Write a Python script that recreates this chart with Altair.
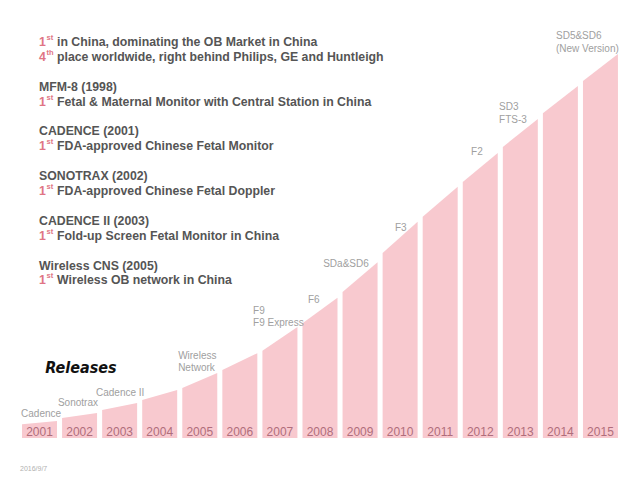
import altair as alt
import pandas as pd

# ---------------- data ----------------
years = list(range(2001, 2016))
# growth index at the left / right edge of each yearly column (0-100)
left_vals = [3.6, 5.2, 7.3, 9.9, 13.0, 17.7, 22.7, 29.9, 38.0, 48.2, 57.6, 66.7, 75.8, 84.6, 93.0]
right_vals = [4.4, 6.5, 9.1, 12.5, 16.9, 22.1, 28.9, 36.5, 45.8, 56.3, 65.4, 74.2, 83.1, 91.7, 100.0]

release_text = ["Cadence", "Sonotrax", "Cadence II", "Wireless", "Network", "F9", "F9 Express",
                "F6", "SDa&SD6", "F3", "F2", "SD3", "FTS-3", "SD5&SD6", "(New Version)"]
release_x = [2000.54, 2001.46, 2002.41, 2004.46, 2004.46, 2006.33, 2006.33,
             2007.70, 2008.08, 2009.87, 2011.77, 2012.47, 2012.47, 2013.89, 2013.89]
release_v = [6.25, 9.1, 11.7, 21.4, 18.2, 33.1, 29.9,
             35.9, 45.3, 54.7, 74.5, 86.2, 82.8, 104.7, 101.3]

# text block: (row, rank number, superscript, rest)
block_rows = [0, 1, 3, 4, 6, 7, 9, 10, 12, 13, 15, 16]
block_num = ["1", "4", "", "1", "", "1", "", "1", "", "1", "", "1"]
block_sup = ["st", "th", "", "st", "", "st", "", "st", "", "st", "", "st"]
block_rest = [
    "in China, dominating the OB Market in China",
    "place worldwide, right behind Philips, GE and Huntleigh",
    "MFM-8 (1998)",
    "Fetal & Maternal Monitor with Central Station in China",
    "CADENCE (2001)",
    "FDA-approved Chinese Fetal Monitor",
    "SONOTRAX (2002)",
    "FDA-approved Chinese Fetal Doppler",
    "CADENCE II (2003)",
    "Fold-up Screen Fetal Monitor in China",
    "Wireless CNS (2005)",
    "Wireless OB network in China",
]
title_text = "Releases"
date_text = "2016/9/7"

# ---------------- layout ----------------
W, H = 624, 464
HALF = 0.4367
PINK = "#f8c9cf"
GRAY = "#555555"
ACCENT = "#e07584"

xs = alt.Scale(domain=[2000.214, 2015.787], nice=False, zero=False)
ys = alt.Scale(domain=[-8.85, 111.98], nice=False, zero=False)

rows = []
for y, l, r in zip(years, left_vals, right_vals):
    rows.append({"year": y, "x": y - HALF, "v": l})
    rows.append({"year": y, "x": y + HALF, "v": r})
bars_df = pd.DataFrame(rows)

bars = alt.Chart(bars_df).mark_area(color=PINK, interpolate="linear").encode(
    x=alt.X("x:Q", scale=xs, axis=None),
    y=alt.Y("v:Q", scale=ys, axis=None),
    y2=alt.datum(0),
    detail="year:N",
)

year_df = pd.DataFrame({"year": years, "label": [str(y) for y in years]})
year_labels = alt.Chart(year_df).mark_text(
    fontSize=12, font="Liberation Sans", color="#b06d7b", align="center", baseline="middle"
).encode(
    x=alt.X("year:Q", scale=xs, axis=None),
    y=alt.value(424),
    text="label:N",
)

rel_df = pd.DataFrame({"t": release_text, "x": release_x, "v": release_v})
rel_labels = alt.Chart(rel_df).mark_text(
    fontSize=10, font="Liberation Sans", color="#a0a0a0", align="left", baseline="middle"
).encode(
    x=alt.X("x:Q", scale=xs, axis=None),
    y=alt.Y("v:Q", scale=ys, axis=None),
    text="t:N",
)

row_scale = alt.Scale(domain=[0, 16], range=[34, 272.4])
blk_df = pd.DataFrame({"row": block_rows, "num": block_num, "sup": block_sup, "rest": block_rest})
blk_df["is_body"] = blk_df["num"] != ""

base_blk = alt.Chart(blk_df)
num_txt = base_blk.transform_filter("datum.is_body").mark_text(
    fontSize=12.3, font="Liberation Sans", fontWeight="bold", color=ACCENT, align="left", baseline="middle"
).encode(x=alt.value(31), y=alt.Y("row:Q", scale=row_scale, axis=None), text="num:N")
sup_txt = base_blk.transform_filter("datum.is_body").mark_text(
    fontSize=7.5, font="Liberation Sans", fontWeight="bold", color=ACCENT, align="left", baseline="middle", dy=-4
).encode(x=alt.value(38.5), y=alt.Y("row:Q", scale=row_scale, axis=None), text="sup:N")
body_txt = base_blk.transform_filter("datum.is_body").mark_text(
    fontSize=12.3, font="Liberation Sans", fontWeight="bold", color=GRAY, align="left", baseline="middle"
).encode(x=alt.value(49), y=alt.Y("row:Q", scale=row_scale, axis=None), text="rest:N")
head_txt = base_blk.transform_filter("!datum.is_body").mark_text(
    fontSize=12.3, font="Liberation Sans", fontWeight="bold", color=GRAY, align="left", baseline="middle"
).encode(x=alt.value(31), y=alt.Y("row:Q", scale=row_scale, axis=None), text="rest:N")

title = alt.Chart(pd.DataFrame({"t": [title_text]})).mark_text(
    fontSize=16, font="Liberation Sans Narrow, DejaVu Sans Condensed, Arial Narrow, sans-serif",
    fontWeight="bold", fontStyle="italic", color="#111111", align="center", baseline="middle"
).encode(x=alt.value(73), y=alt.value(360), text="t:N")

date = alt.Chart(pd.DataFrame({"t": [date_text]})).mark_text(
    fontSize=7, font="Liberation Sans", color="#b0b0b0", align="left", baseline="middle"
).encode(x=alt.value(12), y=alt.value(461), text="t:N")

chart = alt.layer(
    bars, year_labels, rel_labels, num_txt, sup_txt, body_txt, head_txt, title, date
).resolve_scale(y="independent").properties(
    width=W, height=H, padding=0, background="white"
).configure_view(stroke=None)

chart.save("out.html", embed_options={"renderer": "svg", "actions": False})
